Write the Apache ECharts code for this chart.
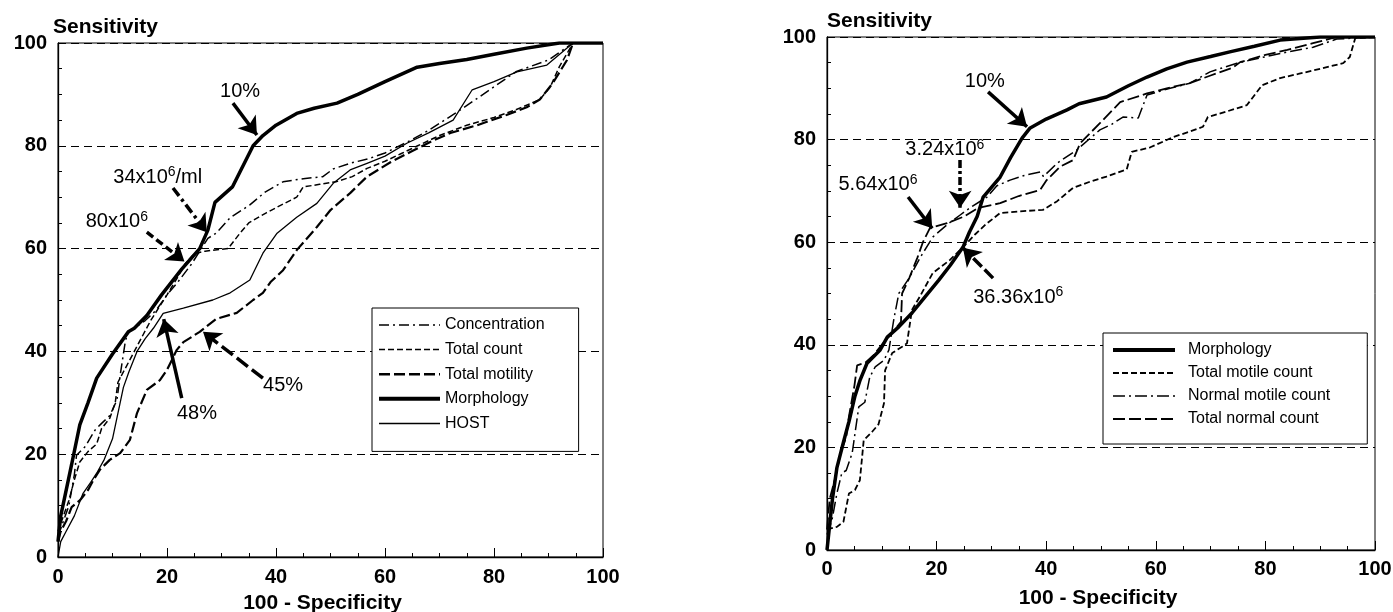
<!DOCTYPE html>
<html>
<head>
<meta charset="utf-8" />
<title>ROC curves</title>
<script src="https://cdn.jsdelivr.net/npm/echarts@6/dist/echarts.min.js"></script>
<style>
    body { margin: 0; padding: 0; background: #fff; overflow: hidden; }
    #main { width: 1393px; height: 612px; }
</style>
</head>
<body>
<div id="main"></div>
<script>
// ---- left panel curves: [100 - specificity, sensitivity]
var concentrationL = [[0,4],[1,7],[2,10],[3,16],[3.4,19.8],[5,21.5],[6.8,24.7],[8,26],[9.5,27.5],[10.8,30.5],[11.5,36],[12.3,41.6],[12.8,43.8],[14,44.5],[16,46],[18,48],[20,51],[22,53.5],[24.5,57],[26,59.5],[27.5,62],[29,63],[31.6,66],[35.2,68.5],[38,71],[41.3,73],[45,73.6],[48.6,74],[50.5,75.5],[53.6,76.6],[57,77.5],[60,78.6],[64.6,81],[68,83],[73,86.4],[78,90],[84,94.4],[90,96.7],[94.5,100],[100,100]];
var totalCountL = [[0,5],[1,8],[2,11],[3,15],[4,18.5],[5.5,20.5],[7.1,22],[8,25],[9.5,27],[10.5,30],[11,34],[12.5,37],[14,40],[15.5,43],[17,46],[18.5,48.5],[20,51],[22,54.5],[23.3,57],[25,59],[27,59.5],[31.2,60],[33.4,63],[35,65],[38.3,67],[41,68.5],[43.8,70],[45,72],[48,72.5],[51,73],[54,74],[56.7,75.6],[60,77],[63,78.5],[66,80],[70,82],[75,84],[80,85.5],[84,87],[88.4,89],[90.3,91.4],[92,95.4],[94.5,100],[100,100]];
var totalMotilityL = [[0,3],[0.5,5],[1.5,7],[2.5,9.7],[4,11],[5.5,13],[6.5,15],[7.7,17],[9.5,18.9],[11.4,20.2],[13.2,22.8],[14.5,28],[16.3,32.5],[18.7,34.4],[20,36.4],[21.8,40.3],[23,41.8],[26,43.8],[29,46.3],[32.8,47.5],[35.8,50],[37.6,51.4],[39,53.5],[41.3,55.8],[43.8,59.7],[47.5,64.2],[50,67.5],[53.6,70.8],[56.7,74],[61,76.8],[65,79],[68.8,81],[72,82.5],[76.9,84],[82.3,86],[86,87.5],[88.4,89],[90.8,92.2],[93.4,96.7],[94.5,100],[100,100]];
var morphologyL = [[0,3],[0.5,8],[1.3,12],[2.5,18],[4,25.7],[5.5,30],[7.1,34.8],[10,39.5],[12.9,43.8],[14,44.5],[16.3,47],[19,51],[22.7,56],[26,60],[27.5,63.6],[28.8,69],[32,72],[35.8,80],[37.6,82],[40,84],[43.8,86.3],[47,87.3],[51.2,88.3],[55,90],[60,92.5],[65.9,95.3],[70,96],[75,96.8],[80,97.8],[86,99],[92,100],[100,100]];
var hostL = [[0,0],[0.5,3],[1.5,5],[3,8],[4.6,12.4],[6,14.5],[7.1,16.3],[8.5,19],[10,23],[11,28],[12,33],[13,36],[14.5,40],[16,42.5],[17.5,44.5],[19.3,47.4],[23,48.4],[28.4,50],[31.6,51.4],[35.2,53.9],[37.6,59.1],[40.2,63],[43.8,66.1],[47.5,68.8],[50.5,72.7],[53.6,75.3],[56.7,76.6],[60,78],[64,80.5],[68,82.5],[72.5,85],[76,90.9],[80,92.5],[84.2,94.4],[89.7,95.7],[94.5,100],[100,100]];

// ---- right panel curves
var morphologyR = [[0,0],[0.5,5],[1,10],[1.8,16],[3,21],[4,25],[5.1,30],[6,33],[7.3,36.4],[9.7,39],[11,41.5],[13.1,43.5],[15.5,46.2],[18,49.5],[20.4,52.6],[22.5,55.5],[24.8,59],[26,62],[27.4,65],[28.5,68.8],[31.6,72.7],[33.5,76.5],[35.6,80.3],[37,82.2],[40,84],[43.8,85.8],[46,87],[51,88.3],[55,90.5],[58.4,92.2],[62,93.8],[65.7,95.1],[70,96.2],[73.5,97.1],[78,98.2],[82.7,99.4],[90,100],[100,100]];
var totalMotileR = [[0,4],[1.8,4.5],[3,5.5],[4,11],[5.1,11.7],[6,13.6],[6.7,21.4],[8.2,23],[9.4,24.5],[10.4,28.6],[10.6,35],[11.9,38.4],[13.7,39.6],[14.6,40.3],[15.5,46.8],[17,49.5],[19.3,54],[22.4,56.5],[24.8,59],[27,61.5],[29,63.5],[31.6,65.7],[35,66],[39.4,66.3],[42,68],[44.9,70.6],[48,71.8],[51,72.8],[54.7,74.2],[55.6,77.6],[59,78.5],[63.2,80.5],[66,81.5],[68.6,82.5],[69.5,84.4],[73,85.5],[76.6,86.7],[79.4,90.6],[82.7,92],[86,92.8],[90,93.8],[94.2,94.9],[95.4,96.1],[96.4,99.8],[100,100]];
var normalMotileR = [[0,3],[0.9,5.8],[1.8,11],[2.7,15],[3.5,15.5],[4.6,18.9],[5.8,27.9],[6.9,28.8],[7.8,33.7],[8.8,35.7],[10.4,37],[11.3,39],[12.2,45],[13.1,50],[15,53],[17,57],[19.3,61],[22,63.5],[24.3,65.3],[26.5,67],[29.2,68.8],[31,71],[33.4,72.1],[36,73],[38.9,73.7],[39.5,72.8],[42,75.4],[45.6,78],[49.8,81.9],[52,83],[54,84.4],[56.8,84.2],[58.4,88.7],[62.6,90],[66.2,91],[69.9,93.2],[74.8,94.9],[82.7,96.8],[88.7,98],[93,99.6],[100,100]];
var totalNormalR = [[0,4],[0.5,10],[1.5,14],[2.5,19],[3.5,22],[4,26],[5,32],[5.5,36],[7,36.5],[8.5,38],[10,40],[12,42.5],[13.5,44.5],[13.7,50],[15,53],[16.5,57],[17.5,60],[18.8,62.8],[21.9,63.7],[25,65],[27.6,66.7],[31.6,67.6],[35,69],[38.9,70.2],[40,72],[42.5,74.7],[44.9,76],[46.2,79.3],[49.8,83.2],[53.5,87.3],[58.4,89],[62,90],[66.2,91],[70,92.5],[74,94],[75.4,95.1],[80,96.5],[84,97.5],[88.7,98.8],[93,100],[100,100]];

// ---- annotations (text + arrow in data units); {s|..} = superscript
var labelsL = ['10%', '34x10{s|6}/ml', '80x10{s|6}', '48%', '45%'];
var labelPosL = [[33.4,90.5],[18.3,73.9],[10.8,65.2],[25.5,28],[41.3,33.3]];
var arrowFromL = [[32.1,88.3],[21.1,71.8],[16.3,63.2],[22.7,30.9],[37.6,34.8]];
var arrowToL = [[36.5,82.1],[27.3,63.2],[23.2,57.5],[19.4,46.3],[26.6,43.8]];
var labelsR = ['10%', '3.24x10{s|6}', '5.64x10{s|6}', '36.36x10{s|6}'];
var labelPosR = [[28.8,91.4],[21.5,78],[9.3,71.2],[34.9,49.3]];
var arrowFromR = [[29.4,89.3],[24.3,76],[14.8,68.8],[30.3,53]];
var arrowToR = [[36.5,82.5],[24.3,66.7],[19.2,62.7],[24.8,58.9]];

var FONT = "'Liberation Sans', Arial, Helvetica, sans-serif";
var DASH_DOT = [10, 4, 2, 4];
var arrowTypesL = ['solid', [10, 4, 3, 4], [8, 4], 'solid', [14, 5]];
var arrowTypesR = ['solid', [8, 3, 3, 3], 'solid', [12, 4]];

var myChart = echarts.init(document.getElementById('main'));

function curve(name, data, idx, width, type) {
    return {
        name: name, type: 'line', xAxisIndex: idx, yAxisIndex: idx,
        data: data, symbol: 'none', showSymbol: false, silent: true,
        lineStyle: { color: '#000', width: width, type: type },
        itemStyle: { color: '#000' }
    };
}

function notes(idx, labels, pos, from, to, types) {
    return {
        type: 'scatter', xAxisIndex: idx, yAxisIndex: idx, silent: true, z: 6,
        symbolSize: 0,
        itemStyle: { color: '#000', opacity: 1 },
        data: labels.map(function (t, i) { return { name: t, value: pos[i] }; }),
        label: {
            show: true, position: 'inside', formatter: '{b}', color: '#000', opacity: 1,
            fontSize: 20, fontFamily: FONT, lineHeight: 24,
            rich: { s: { fontSize: 14, fontFamily: FONT, color: '#000', verticalAlign: 'top', lineHeight: 14 } }
        },
        markLine: {
            silent: true, animation: false,
            symbol: ['none', 'arrow'], symbolSize: 17,
            label: { show: false },
            itemStyle: { color: '#000', opacity: 1 },
            lineStyle: { color: '#000', width: 3.5, opacity: 1 },
            data: from.map(function (p, i) {
                return [{ coord: p, lineStyle: { type: types[i], color: '#000', width: 3.5, opacity: 1 } }, { coord: to[i] }];
            })
        }
    };
}

function xAxis(idx) {
    return {
        type: 'value', gridIndex: idx, min: 0, max: 100, interval: 20,
        name: '100 - Specificity', nameLocation: 'middle', nameGap: idx === 0 ? 36 : 38,
        nameTextStyle: { fontSize: 21, fontWeight: 'bold', color: '#000', fontFamily: FONT, padding: [0, idx === 0 ? 16 : 6, 0, 0] },
        axisLine: { lineStyle: { color: '#000', width: 1.3 } },
        axisTick: { inside: true, length: 9, lineStyle: { color: '#000' } },
        minorTick: { show: true, splitNumber: 4, length: 4, lineStyle: { color: '#000' } },
        axisLabel: { fontSize: 20, fontWeight: 'bold', color: '#000', fontFamily: FONT, margin: idx === 0 ? 10 : 9 },
        splitLine: { show: false }
    };
}

function yAxis(idx) {
    return {
        type: 'value', gridIndex: idx, min: 0, max: 100, interval: 20,
        name: 'Sensitivity', nameLocation: 'end', nameGap: 5,
        nameTextStyle: { fontSize: 21, fontWeight: 'bold', color: '#000', fontFamily: FONT, align: 'left', verticalAlign: 'bottom', padding: [0, 0, 0, idx === 0 ? -5 : 0] },
        axisLine: { lineStyle: { color: '#000', width: 1.3 } },
        axisTick: { inside: true, length: 5, lineStyle: { color: '#000' } },
        minorTick: { show: true, splitNumber: 4, length: 4, lineStyle: { color: '#000' } },
        axisLabel: { fontSize: 20, fontWeight: 'bold', color: '#000', fontFamily: FONT, margin: 11 },
        splitLine: { show: true, lineStyle: { color: '#000', width: 1, type: [8, 5] } }
    };
}

function legendItem(name, width) {
    return { name: name, lineStyle: { width: width } };
}

var legendBase = {
    orient: 'vertical', selectedMode: false, backgroundColor: '#fff',
    borderColor: '#000', borderWidth: 1, borderRadius: 0,
    itemHeight: 14,
    // hide the marker dot that the line legend icon adds
    itemStyle: { color: 'rgba(0,0,0,0)', borderColor: 'rgba(0,0,0,0)', borderWidth: 0 },
    textStyle: { fontSize: 16, color: '#000', fontFamily: FONT }
};

var option = {
    animation: false,
    backgroundColor: '#fff',
    grid: [
        { left: 58, top: 43, width: 545, height: 514, outerBoundsMode: 'none', show: true, borderColor: '#000', borderWidth: 1 },
        { left: 827, top: 37, width: 548, height: 513, outerBoundsMode: 'none', show: true, borderColor: '#000', borderWidth: 1 }
    ],
    xAxis: [xAxis(0), xAxis(1)],
    yAxis: [yAxis(0), yAxis(1)],
    legend: [
        Object.assign({}, legendBase, {
            data: [legendItem('Concentration', 1.5), legendItem('Total count', 1.5), legendItem('Total motility', 2.4),
                   legendItem('Morphology', 4), legendItem('HOST', 1.5)],
            left: 372, top: 308, itemWidth: 61, itemGap: 8.6, padding: [9, 34, 20, 5]
        }),
        Object.assign({}, legendBase, {
            data: [legendItem('Morphology', 4), legendItem('Total motile count', 1.8),
                   legendItem('Normal motile count', 1.5), legendItem('Total normal count', 2)],
            left: 1103, top: 333, itemWidth: 62, itemGap: 7, padding: [9, 37, 17, 8],
            textStyle: { fontSize: 16, color: '#000', fontFamily: FONT, padding: [0, 0, 0, 8] }
        })
    ],
    series: [
        curve('Concentration', concentrationL, 0, 1.5, DASH_DOT),
        curve('Total count', totalCountL, 0, 1.5, [6, 3]),
        curve('Total motility', totalMotilityL, 0, 2.2, [11, 4]),
        curve('Morphology', morphologyL, 0, 3.5, 'solid'),
        curve('HOST', hostL, 0, 1.3, 'solid'),
        curve('Morphology', morphologyR, 1, 3.5, 'solid'),
        curve('Total motile count', totalMotileR, 1, 1.8, [6, 3]),
        curve('Normal motile count', normalMotileR, 1, 1.5, [12, 4, 2, 4]),
        curve('Total normal count', totalNormalR, 1, 1.8, [12, 4]),
        notes(0, labelsL, labelPosL, arrowFromL, arrowToL, arrowTypesL),
        notes(1, labelsR, labelPosR, arrowFromR, arrowToR, arrowTypesR)
    ]
};

myChart.setOption(option);
</script>
</body>
</html>
